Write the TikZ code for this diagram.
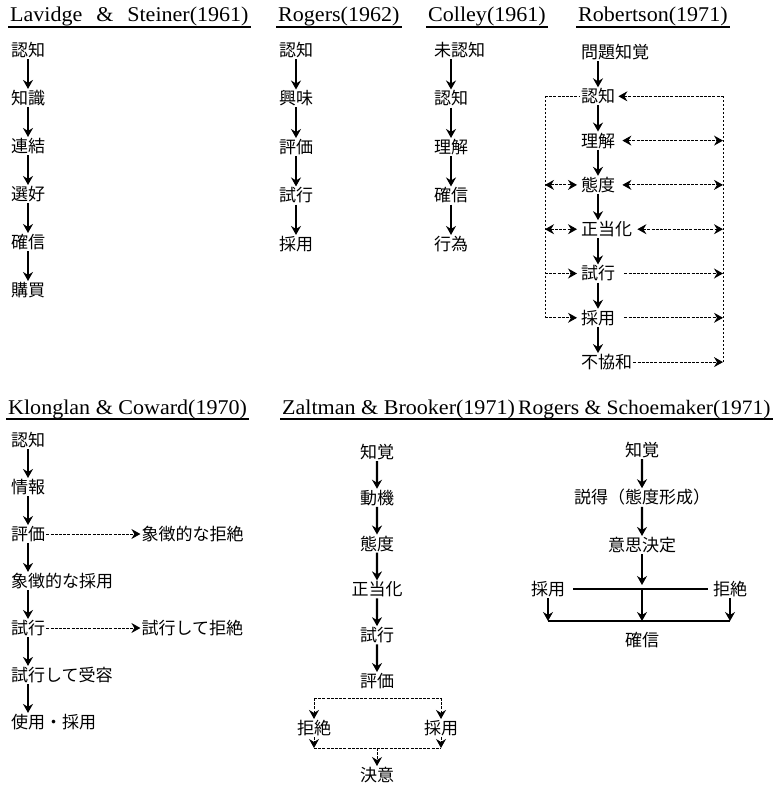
\documentclass[tikz,border=0pt]{standalone}
\usepackage{fontspec}
\setmainfont{Liberation Serif}
\newfontfamily\jpfont{Noto Sans CJK JP}
\newfontfamily\hdfont[FakeStretch=1.05]{Liberation Serif}
\usepackage{tikz}
\usetikzlibrary{arrows.meta,positioning,trees}

\begin{document}
\begin{tikzpicture}[
  x=1bp, y=-1bp,
  >={Stealth[length=9bp,width=10bp,inset=3bp]},
  every node/.style={inner sep=1bp},
  jp/.style={font=\jpfont\fontsize{17bp}{17bp}\selectfont, anchor=west},
  jpc/.style={font=\jpfont\fontsize{17bp}{17bp}\selectfont, anchor=center},
  hd/.style={font=\hdfont\fontsize{21bp}{21bp}\selectfont, anchor=base west,
             inner sep=0pt},
  uline/.style={line width=1.6bp},
  flow/.style={line width=2.2bp, ->},
  link/.style={line width=0.9bp, dash pattern=on 3bp off 1.2bp},
  rail/.style={line width=0.9bp, dash pattern=on 2bp off 2bp},
  bar/.style={line width=1.8bp},
  cchain/.style={edge from parent/.style={draw, flow},
    parent anchor=south, child anchor=north}]
\useasboundingbox (0,0) rectangle (773,788);

% headings
\node[hd] (h1) at (10,22)  {Lavidge\hspace{0.66em}\&\hspace{0.66em}Steiner(1961)};
\node[hd] (h2) at (278,22) {Rogers(1962)};
\node[hd] (h3) at (428,22) {Colley(1961)};
\node[hd] (h4) at (578,22) {Robertson(1971)};
\node[hd] (h5) at (8,414)  {Klonglan \& Coward(1970)};
\node[hd] (h6) at (282,414) {Zaltman \& Brooker(1971)};
\node[hd, font=\hdfont\fontsize{20.5bp}{21bp}\selectfont] (h7) at (518,414)
  {Rogers \& Schoemaker(1971)};
\foreach \h in {h1,h2,h3,h4,h5,h6,h7}
  \draw[uline] ([xshift=-2bp,yshift=-5bp]\h.base west)
    -- ([xshift=2bp,yshift=-5bp]\h.base east);

% left-aligned columns: text, then an arrow under the first two characters
\foreach \t [count=\i] in {認知,知識,連結,選好,確信,購買}
  \node[jp] (ls\i) at (10,{50+48*(\i-1)}) {\t};
\foreach \t [count=\i] in {認知,興味,評価,試行,採用}
  \node[jp] (rg\i) at (278,{50+48.5*(\i-1)}) {\t};
\foreach \t [count=\i] in {未認知,認知,理解,確信,行為}
  \node[jp] (co\i) at (433,{50+48.5*(\i-1)}) {\t};
\foreach \t [count=\i] in {問題知覚,認知,理解,態度,正当化,試行,採用,不協和}
  \node[jp] (ro\i) at (580,{52+44.3*(\i-1)}) {\t};
\foreach \t [count=\i] in {認知,情報,評価,象徴的な採用,試行,試行して受容,使用・採用}
  \node[jp] (kc\i) at (10,{440+47*(\i-1)}) {\t};

\foreach \c/\n in {ls/6,rg/5,co/5,ro/8,kc/7}
  \foreach \i [remember=\i as \p (initially 1)] in {2,...,\n}
    \draw[flow] ([xshift=18bp]\c\p.south west) -- ([xshift=18bp]\c\i.north west);

% Robertson feedback rails
\coordinate (lrail) at (545,0);
\coordinate (rrail) at (723,0);
\draw[rail] (ro2 -| lrail) -- (ro7 -| lrail);
\draw[rail] (ro2 -| rrail) -- (ro8 -| rrail);
\draw[link] (ro2 -| lrail) -- (ro2.west);
\draw[link,<-] ([xshift=2bp]ro2.east) -- (ro2 -| rrail);
\draw[link,<->] ([xshift=6bp]ro3.east) -- (ro3 -| rrail);
\draw[link,<->] (ro4 -| lrail) -- ([xshift=-3bp]ro4.west);
\draw[link,<->] ([xshift=6bp]ro4.east) -- (ro4 -| rrail);
\draw[link,<->] (ro5 -| lrail) -- ([xshift=-3bp]ro5.west);
\draw[link,<->] ([xshift=4bp]ro5.east) -- (ro5 -| rrail);
\draw[link,->] (ro6 -| lrail) -- ([xshift=-3bp]ro6.west);
\draw[link,->] ([xshift=8bp]ro6.east) -- (ro6 -| rrail);
\draw[link,->] (ro7 -| lrail) -- ([xshift=-3bp]ro7.west);
\draw[link,->] ([xshift=8bp]ro7.east) -- (ro7 -| rrail);
\draw[link,->] (ro8.east) -- (ro8 -| rrail);

% Klonglan & Coward side branches
\node[jp, right=94bp of kc3] (kc3r) {象徴的な拒絶};
\node[jp, right=94bp of kc5] (kc5r) {試行して拒絶};
\draw[link,->] (kc3) -- (kc3r);
\draw[link,->] (kc5) -- (kc5r);

% Zaltman & Brooker
\node[jpc] (zb1) at (377,452) {知覚} [cchain, level distance=45.8bp]
  child {node[jpc] (zb2) {動機}
    child {node[jpc] (zb3) {態度}
      child {node[jpc] (zb4) {正当化}
        child {node[jpc] (zb5) {試行}
          child {node[jpc] (zb6) {評価}}}}}};
\node[jpc] (zb7) at (314,728) {拒絶};
\node[jpc] (zb8) at (441,728) {採用};
\node[jpc] (zb9) at (377,775) {決意};
\coordinate (zhi) at (377,698);
\coordinate (zlo) at (377,748);
\draw[link] (zb7 |- zhi) -- (zb8 |- zhi);
\draw[link,->] (zb7 |- zhi) -- (zb7.north);
\draw[link,->] (zb8 |- zhi) -- (zb8.north);
\draw[link,->] (zb7.south) -- (zb7 |- zlo);
\draw[link,->] (zb8.south) -- (zb8 |- zlo);
\draw[link] (zb7 |- zlo) -- (zb8 |- zlo);
\draw[link,->] (zlo) -- (zb9.north);

% Rogers & Shoemaker
\node[jpc] (rs1) at (642,450) {知覚} [cchain, level distance=47.5bp]
  child {node[jpc] (rs2) {説得（態度形成）}
    child {node[jpc] (rs3) {意思決定}}};
\node[jpc] (rs4) at (548,589) {採用};
\node[jpc] (rs5) at (730,589) {拒絶};
\node[jpc] (rs6) at (642,640) {確信};
\coordinate (rsmid) at (642,589);
\coordinate (rslow) at (642,621);
\draw[bar] ([xshift=7bp]rs4.east) -- ([xshift=-4bp]rs5.west);
\draw[flow] (rs3.south) -- ([yshift=4bp]rs3.south |- rsmid);
\draw[flow] (rsmid) -- (rslow);
\draw[flow] (rs4.south) -- (rs4 |- rslow);
\draw[flow] (rs5.south) -- (rs5 |- rslow);
\draw[bar] (rs4 |- rslow) -- (rs5 |- rslow);
\end{tikzpicture}
\end{document}
